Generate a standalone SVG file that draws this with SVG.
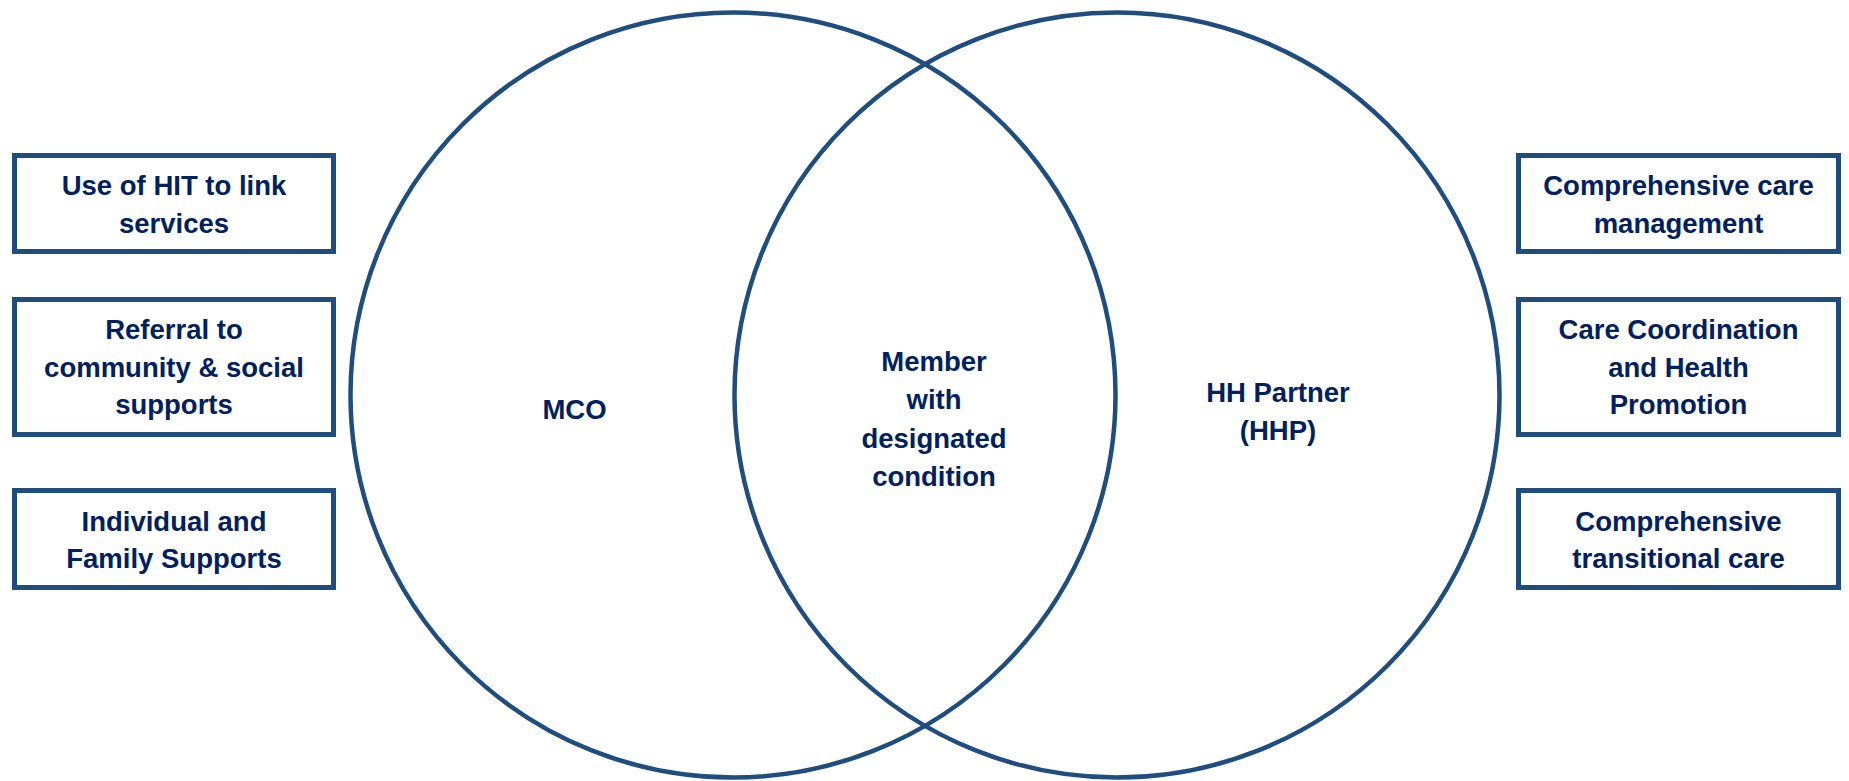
<svg xmlns="http://www.w3.org/2000/svg" width="1849" height="781" viewBox="0 0 1849 781">
<style>
.ring{fill:none;stroke:#1F4E7E;stroke-width:4.5}
.box{fill:#FFFFFF;stroke:#1F4E7E;stroke-width:5}
.t{font-family:"Liberation Sans",Arial,sans-serif;font-weight:bold;font-size:27.5px;fill:#002060;text-anchor:middle}
</style>
<rect x="0" y="0" width="1849" height="781" fill="#FFFFFF"/>
<g id="circle-mco">
<circle class="ring" cx="733" cy="395" r="382.5"/>
<text class="t" x="574.5" y="419">MCO</text>
</g>
<g id="circle-hhp">
<circle class="ring" cx="1117" cy="395" r="382.5"/>
<text class="t" x="1278" y="402">HH Partner</text>
<text class="t" x="1278" y="439.5">(HHP)</text>
</g>
<g id="overlap-member">
<text class="t" x="934" y="371">Member</text>
<text class="t" x="934" y="409">with</text>
<text class="t" x="934" y="448">designated</text>
<text class="t" x="934" y="486">condition</text>
</g>
<g id="box-hit">
<rect class="box" x="14.5" y="155.5" width="319" height="96"/>
<text class="t" x="174" y="195">Use of HIT to link</text>
<text class="t" x="174" y="233">services</text>
</g>
<g id="box-referral">
<rect class="box" x="14.5" y="299.5" width="319" height="135"/>
<text class="t" x="174" y="339">Referral to</text>
<text class="t" x="174" y="376.5">community &amp; social</text>
<text class="t" x="174" y="414">supports</text>
</g>
<g id="box-individual">
<rect class="box" x="14.5" y="490.5" width="319" height="97"/>
<text class="t" x="174" y="531">Individual and</text>
<text class="t" x="174" y="568">Family Supports</text>
</g>
<g id="box-care-mgmt">
<rect class="box" x="1518.5" y="155.5" width="320" height="96"/>
<text class="t" x="1678.5" y="195">Comprehensive care</text>
<text class="t" x="1678.5" y="233">management</text>
</g>
<g id="box-coordination">
<rect class="box" x="1518.5" y="299.5" width="320" height="135"/>
<text class="t" x="1678.5" y="339">Care Coordination</text>
<text class="t" x="1678.5" y="376.5">and Health</text>
<text class="t" x="1678.5" y="414">Promotion</text>
</g>
<g id="box-transitional">
<rect class="box" x="1518.5" y="490.5" width="320" height="97"/>
<text class="t" x="1678.5" y="531">Comprehensive</text>
<text class="t" x="1678.5" y="568">transitional care</text>
</g>
<g id="connectors"></g>
</svg>
